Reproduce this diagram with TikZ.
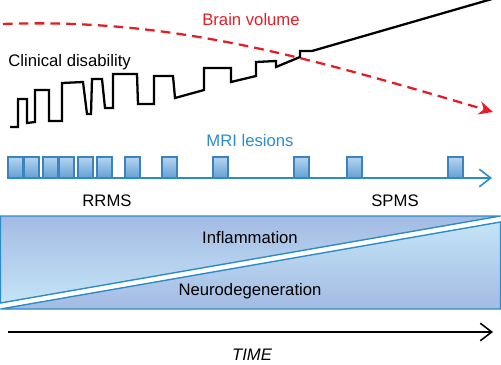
\documentclass[tikz,border=0pt]{standalone}
\usepackage{fontspec}
\setmainfont{Liberation Sans}
\usetikzlibrary{arrows.meta}

\definecolor{brainred}{RGB}{228,30,38}
\definecolor{mriblue}{RGB}{45,140,200}
\definecolor{lesionedge}{RGB}{60,130,190}
\definecolor{lesiontop}{RGB}{180,212,238}
\definecolor{lesionbot}{RGB}{100,160,212}
\definecolor{wedgedark}{RGB}{163,186,227}
\definecolor{wedgelight}{RGB}{196,228,246}

\tikzset{
  lbl/.style = {font=\fontsize{9.5}{11}\selectfont, inner sep=0pt},
  lesion/.style = {draw=lesionedge, line width=.8pt, top color=lesiontop, bottom color=lesionbot},
  wedge/.style = {draw=mriblue, line width=.8pt},
  barb/.style = {-{Straight Barb[length=6.5pt, width=10pt]}, line width=.9pt}
}

\begin{document}
\begin{tikzpicture}[x=0.02cm, y=-0.02cm]
\useasboundingbox (0,0) rectangle (501,365);

\draw [brainred, line width=1.3pt, dash pattern=on 5.5pt off 3.5pt, -{Stealth[length=8pt, width=7.5pt]}]
  (3,24) .. controls (170,18) and (300,55) .. (493,112);

\draw [line width=1.3pt, line join=miter]
  (10,127) -- (18,127) -- (18,99) -- (27,99) -- (27,123) -- (35,122) -- (35,90) -- (49,90)
  -- (49,121) -- (62,121) -- (62,83) -- (83,82) -- (87,114) -- (91,114) -- (92,79) -- (102,79)
  -- (105,108) -- (113,108) -- (113,74) -- (137,74) -- (138,104) -- (154,104) -- (154,76)
  -- (173,76) -- (175,98) -- (204,90) -- (204,68) -- (231,68) -- (231,82) -- (256,76)
  -- (256,62) -- (276,61) -- (276,67) -- (300,57) -- (300,51) -- (312,51) -- (492,-1);

\node [lbl, brainred] (brain) at (251,20) {Brain volume};
\node [lbl, anchor=west] (disab) at (8,62) {Clinical disability};
\node [lbl, mriblue] (mri) at (250,141) {MRI lesions};

\foreach \x in {8,24,43,59,78,97,125,162,213,294,347,448}
  \draw [lesion] (\x,157) rectangle ++(15,21);

\coordinate (m0) at (8,178);
\coordinate (m1) at (492,178);
\draw [barb, mriblue] (m0) -- (m1);

\node [lbl] (rrms) at (107,201) {RRMS};
\node [lbl] (spms) at (395,201) {SPMS};

\draw [wedge, top color=wedgedark, bottom color=wedgelight] (0.5,216) -- (500.5,216) -- (0.5,303) -- cycle;
\draw [wedge, top color=wedgelight, bottom color=wedgedark] (0.5,309) -- (500.5,309) -- (500.5,222) -- cycle;

\node [lbl] (infl) at (250,238) {Inflammation};
\node [lbl] (neuro) at (250,291) {Neurodegeneration};

\coordinate (t0) at (8,332);
\coordinate (t1) at (493,332);
\draw [barb] (t0) -- (t1);
\node [lbl, font=\fontsize{9.5}{11}\selectfont\itshape] (time) at (252,355) {TIME};
\end{tikzpicture}
\end{document}
